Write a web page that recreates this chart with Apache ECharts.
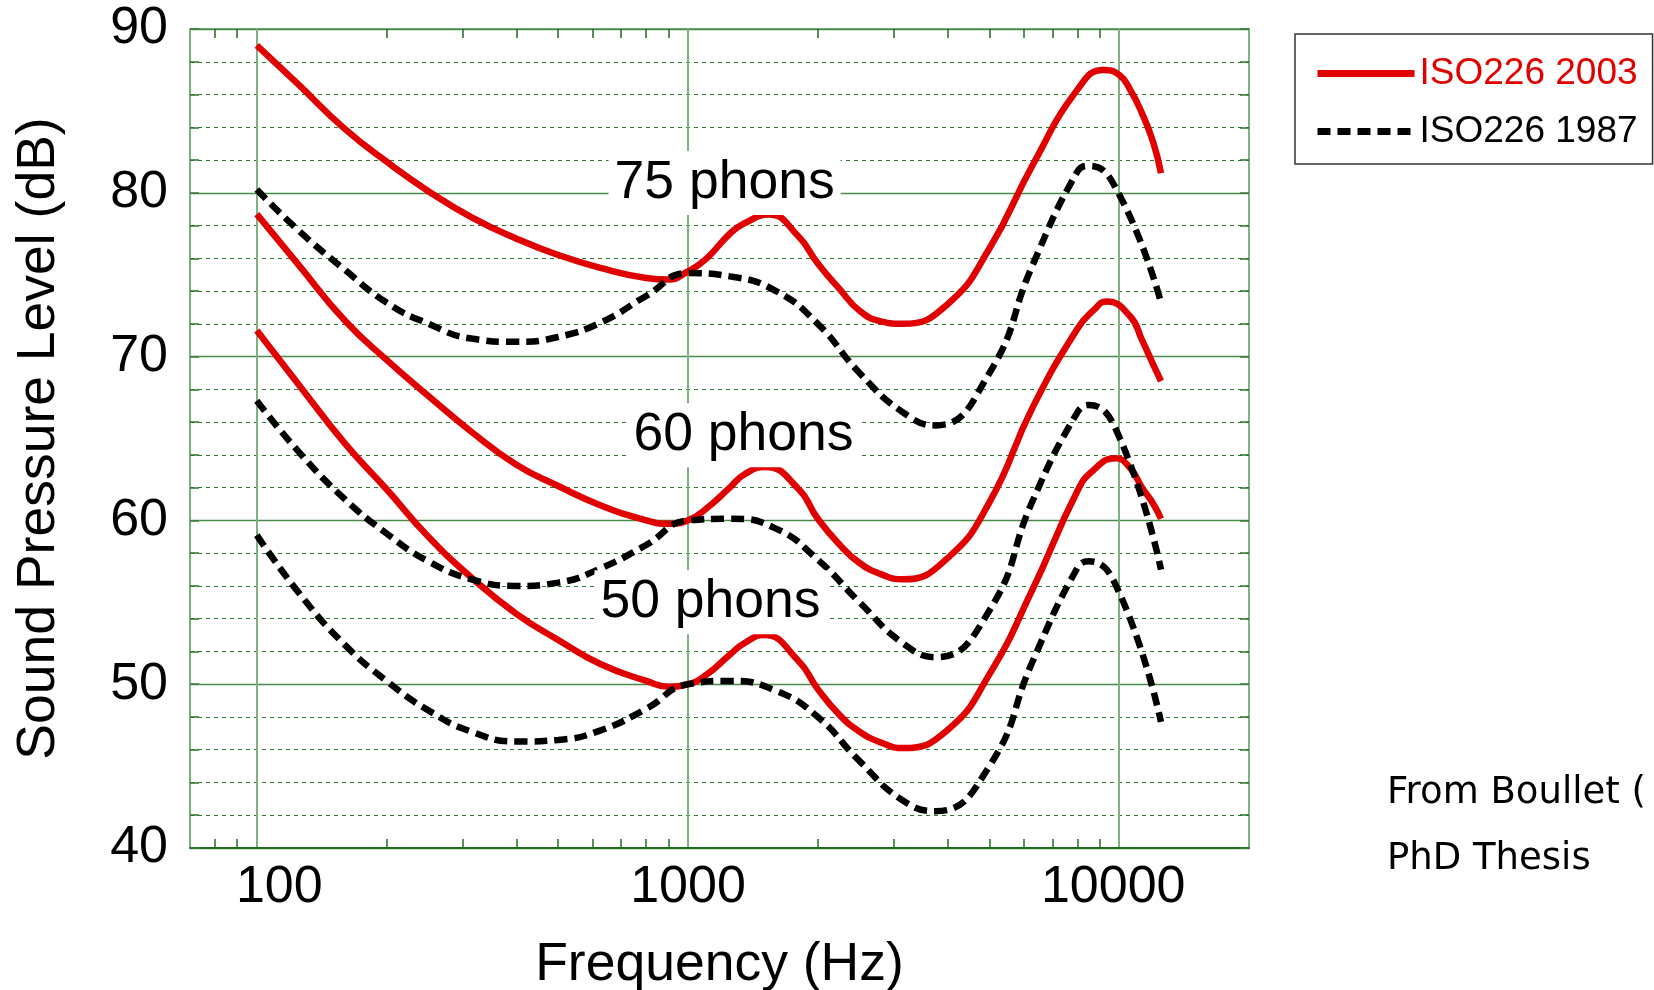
<!DOCTYPE html>
<html><head><meta charset="utf-8">
<script src="https://cdn.jsdelivr.net/npm/echarts@6/dist/echarts.min.js"></script>
<style>html,body{margin:0;padding:0;background:#fff}#c{width:1654px;height:990px}</style>
</head><body><div id="c"></div>
<script>
// ---- data ----
const freq2003_75 = [100,125,160,200,250,315,400,500,630,800,900,1000,1100,1250,1350,1540,1800,2000,2250,2500,2800,3150,4000,5000,6300,8000,9200,10000,10600,11300,12000,12500];
const iso2003_75  = [89.0,86.6,83.9,81.9,80.1,78.5,77.2,76.2,75.4,74.8,74.7,75.2,75.95,77.5,78.13,78.67,77.36,75.68,74.1,72.8,72.15,72.0,73.2,76.6,81.7,86.3,87.5,87.2,86.3,84.85,83.05,81.2];
const freq2003_60 = [100,125,160,200,250,315,400,500,630,800,900,1000,1100,1250,1350,1510,1800,2000,2250,2500,2800,3150,4000,5000,6300,8000,8700,9350,10600,11300,12000,12500];
const iso2003_60  = [78.7,75.6,72.2,69.8,67.6,65.4,63.4,62.1,60.9,60.0,59.8,60.0,60.7,62.0,62.8,63.26,61.95,60.1,58.5,57.4,56.72,56.4,57.7,61.1,66.9,71.7,72.8,73.37,72.46,71.0,69.5,68.5];
const freq2003_50 = [100,125,160,200,250,315,400,500,630,800,900,1000,1100,1250,1350,1500,1800,2000,2250,2500,2800,3150,4000,5000,6300,8000,8700,9800,10600,11300,12000,12500];
const iso2003_50  = [71.6,68.3,64.7,61.9,59.0,56.5,54.3,52.7,51.2,50.2,49.85,50.0,50.55,51.8,52.5,53.0,51.45,49.7,48.1,47.1,46.44,46.1,47.2,50.6,55.8,61.8,63.05,63.8,63.2,62.0,61.0,60.1];
const freq1987 = [100,125,160,200,250,315,400,500,630,800,1000,1250,1600,2000,2500,3150,3750,5000,6300,8000,8500,10000,12500];
const iso1987_75 = [80.2,77.7,75.3,73.3,72.0,71.1,70.9,71.2,72.1,73.7,75.1,74.9,74.0,72.0,69.0,66.6,65.8,69.0,75.6,81.3,81.65,79.9,73.3];
const iso1987_60 = [67.3,64.2,61.3,59.2,57.5,56.4,56.0,56.2,57.1,58.5,60.0,60.1,59.5,57.6,55.0,52.5,51.65,54.5,61.2,66.6,67.05,65.1,57.0];
const iso1987_50 = [59.1,55.6,52.4,50.2,48.4,47.1,46.5,46.6,47.2,48.5,50.0,50.2,49.6,48.0,45.3,42.9,42.25,45.0,51.4,57.1,57.5,55.6,47.7];
const seriesNames = ['ISO226 2003', 'ISO226 1987'];
const xMajorTicks = [100, 1000, 10000];
const xMinorTicks = [80,90,200,300,400,500,600,700,800,900,2000,3000,4000,5000,6000,7000,8000,9000];
const xRange = [70, 20000];
const yRange = [40, 90];
const yStep = 10;
const phonLabels = ['75 phons', '60 phons', '50 phons'];
const phonLabelFreq = [1216, 1345, 1128];
const phonLabelDb = [80.6, 65.2, 55.0];
const noteLines = ['From Boullet (', 'PhD Thesis'];

// ---- chart ----
const L = v => Math.log10(v);
const FONT = '"Liberation Sans", Arial, sans-serif';
const RED = '#e00000';
const pts = (fs, arr) => fs.map((f, i) => [L(f), arr[i]]);

const redSeries = [[freq2003_75, iso2003_75], [freq2003_60, iso2003_60], [freq2003_50, iso2003_50]].map(([fs, a]) => ({
  name: seriesNames[0], type: 'line', data: pts(fs, a), smooth: 0.5,
  symbol: 'none', showSymbol: false, z: 3,
  lineStyle: { color: RED, width: 6.5 }, itemStyle: { color: RED }
}));
const blackSeries = [iso1987_75, iso1987_60, iso1987_50].map(a => ({
  name: seriesNames[1], type: 'line', data: pts(freq1987, a), smooth: 0.5,
  symbol: 'none', showSymbol: false, z: 4,
  lineStyle: { color: '#000', width: 6.5, type: [13, 7] }, itemStyle: { color: '#000' }
}));

const minorXAxis = pos => ({
  type: 'value', gridIndex: 0, position: pos, min: L(xRange[0]), max: L(xRange[1]),
  axisLine: { show: false },
  axisTick: { show: true, inside: true, length: 9, customValues: xMinorTicks.map(L),
    lineStyle: { color: '#1f6e1f', width: 1.5 } },
  axisLabel: { show: false }, splitLine: { show: false }
});

const option = {
  backgroundColor: '#fff',
  animation: false,
  grid: { left: 190, top: 29, width: 1059, height: 819, show: true,
    borderColor: '#7fb07f', borderWidth: 2, outerBoundsMode: 'none' },
  legend: {
    left: 1295, top: 34, orient: 'vertical',
    data: [
      { name: seriesNames[0], textStyle: { color: RED } },
      { name: seriesNames[1], textStyle: { color: '#000' } }
    ],
    itemWidth: 97, itemHeight: 4, itemGap: 21,
    padding: [21, 15, 14, 19],
    borderColor: '#333', borderWidth: 1.5,
    lineStyle: { width: 7 },
    textStyle: { fontSize: 37, fontFamily: FONT, padding: [0, 0, 0, 0] },
    selectedMode: false
  },
  xAxis: [
    {
      type: 'value', position: 'bottom', min: L(xRange[0]), max: L(xRange[1]),
      name: 'Frequency (Hz)', nameLocation: 'middle', nameGap: 90,
      nameTextStyle: { fontSize: 53.5, fontFamily: FONT, color: '#000' },
      axisLine: { show: true, lineStyle: { color: '#1f6e1f', width: 2 } },
      axisTick: { show: false, customValues: xMajorTicks.map(L) },
      axisLabel: {
        customValues: xMajorTicks.map(L), margin: 14,
        fontSize: 52, fontFamily: FONT, color: '#000',
        formatter: v => {
          const t = String(Math.round(Math.pow(10, v)));
          if (t === '100') return '{a|' + t + '}';
          if (t === '10000') return '{c|' + t + '}';
          return '{b|' + t + '}';
        },
        rich: {
          a: { fontSize: 52, fontFamily: FONT, color: '#000', padding: [0, 0, 0, 45] },
          b: { fontSize: 52, fontFamily: FONT, color: '#000' },
          c: { fontSize: 52, fontFamily: FONT, color: '#000', padding: [0, 12, 0, 0] }
        }
      },
      splitLine: { show: true, lineStyle: { color: '#7fb07f', width: 2 } }
    },
    minorXAxis('bottom'),
    minorXAxis('top')
  ],
  yAxis: [
    {
      type: 'value', position: 'left', min: yRange[0], max: yRange[1], interval: yStep,
      name: 'Sound Pressure Level (dB)', nameLocation: 'middle', nameGap: 124,
      nameTextStyle: { fontSize: 53.5, fontFamily: FONT, color: '#000' },
      axisLine: { show: true, lineStyle: { color: '#7fb07f', width: 2 } },
      axisTick: { show: true, inside: true, length: 9, lineStyle: { color: '#3d7d3d', width: 1.5 } },
      minorTick: { show: true, splitNumber: 5, length: 9, lineStyle: { color: '#2a742a', width: 1.5 } },
      axisLabel: { fontSize: 52, fontFamily: FONT, color: '#000', margin: 22 },
      splitLine: { show: true, lineStyle: { color: '#4a8a4a', width: 1.3 } },
      minorSplitLine: { show: true, lineStyle: { color: '#2a7a2a', width: 1, type: [4, 4] } }
    },
    {
      type: 'value', position: 'right', min: yRange[0], max: yRange[1], interval: yStep,
      axisLine: { show: false },
      axisTick: { show: true, inside: true, length: 9, lineStyle: { color: '#3d7d3d', width: 1.5 } },
      minorTick: { show: true, splitNumber: 5, length: 9, lineStyle: { color: '#2a742a', width: 1.5 } },
      axisLabel: { show: false }, splitLine: { show: false }
    }
  ],
  series: [
    ...redSeries,
    ...blackSeries,
    {
      type: 'scatter', silent: true, symbolSize: 0, z: 5,
      itemStyle: { opacity: 1 },
      data: phonLabels.map((t, i) => ({ name: t, value: [L(phonLabelFreq[i]), phonLabelDb[i]] })),
      label: { show: true, position: 'inside', formatter: '{b}', fontSize: 53.5, fontFamily: FONT,
        color: '#000', opacity: 1, backgroundColor: '#fff', padding: [6, 6, 4, 6] }
    }
  ],
  graphic: noteLines.map((t, i) => ({
    type: 'text', x: 1387, y: 793 + i * 66,
    style: { text: t, font: '37px "DejaVu Sans", Verdana, sans-serif', fill: '#000', verticalAlign: 'middle' }
  }))
};
const chart = echarts.init(document.getElementById('c'), null, { renderer: 'canvas' });
chart.setOption(option);
</script></body></html>
